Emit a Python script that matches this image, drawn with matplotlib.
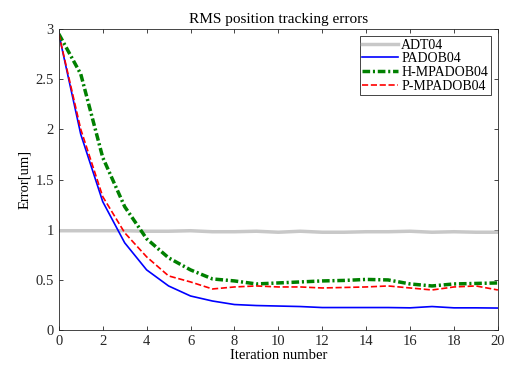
import matplotlib
matplotlib.use("Agg")
import matplotlib.pyplot as plt

iters = list(range(21))
adt04 = [0.99, 0.99, 0.99, 0.99, 0.985, 0.985, 0.99, 0.98, 0.98, 0.985, 0.975,
         0.985, 0.975, 0.975, 0.98, 0.98, 0.985, 0.975, 0.98, 0.975, 0.975]
padob04 = [2.95, 1.95, 1.28, 0.87, 0.60, 0.44, 0.34, 0.29, 0.255, 0.245, 0.24,
           0.235, 0.225, 0.225, 0.225, 0.225, 0.222, 0.235, 0.222, 0.222, 0.22]
h_mpadob04 = [2.95, 2.55, 1.72, 1.23, 0.91, 0.72, 0.60, 0.51, 0.49, 0.46, 0.47,
              0.48, 0.49, 0.495, 0.505, 0.50, 0.46, 0.44, 0.46, 0.465, 0.47]
p_mpadob04 = [2.95, 2.00, 1.33, 0.97, 0.73, 0.54, 0.48, 0.41, 0.43, 0.44, 0.43,
              0.43, 0.42, 0.425, 0.43, 0.44, 0.42, 0.40, 0.43, 0.44, 0.40]

plt.rcParams["font.family"] = ["Liberation Serif", "DejaVu Serif"]

fig = plt.figure(figsize=(5.07, 3.66), dpi=100)
ax = fig.add_axes([0.116, 0.098, 0.866, 0.823])

ax.plot(iters, adt04, color="#c8c8c8", lw=2.5, label="ADT04")
ax.plot(iters, padob04, color="#0000ff", lw=1.2, label="PADOB04")
ax.plot(iters, h_mpadob04, color="#008000", lw=2.5, ls=(0, (2.2, 0.8, 0.6, 0.8)),
        label="H-MPADOB04")
ax.plot(iters, p_mpadob04, color="#ff0000", lw=1.2, ls="--", label="P-MPADOB04")

ax.set_xlim(0, 20)
ax.set_ylim(0, 3)
ax.set_xticks(range(0, 21, 2))
ax.set_yticks([0, 0.5, 1, 1.5, 2, 2.5, 3])
ax.set_yticklabels(["0", "0.5", "1", "1.5", "2", "2.5", "3"])
ax.tick_params(direction="in", top=True, right=True, labelsize=10.5,
               colors="#262626", length=3, width=0.6)
for s in ax.spines.values():
    s.set_color("#262626")
    s.set_linewidth(0.6)

ax.set_title("RMS position tracking errors", fontsize=11, pad=4)
ax.set_xlabel("Iteration number", fontsize=10.5, labelpad=1)
ax.set_ylabel("Error[um]", fontsize=10.5, labelpad=3)

leg = ax.legend(loc="upper right", fontsize=10, fancybox=False, framealpha=1,
                edgecolor="#262626", borderpad=0.2, labelspacing=0.05,
                handlelength=2.6, handletextpad=0.2, borderaxespad=0.5)
leg.get_frame().set_linewidth(0.6)

fig.savefig("out.png", dpi=100)
